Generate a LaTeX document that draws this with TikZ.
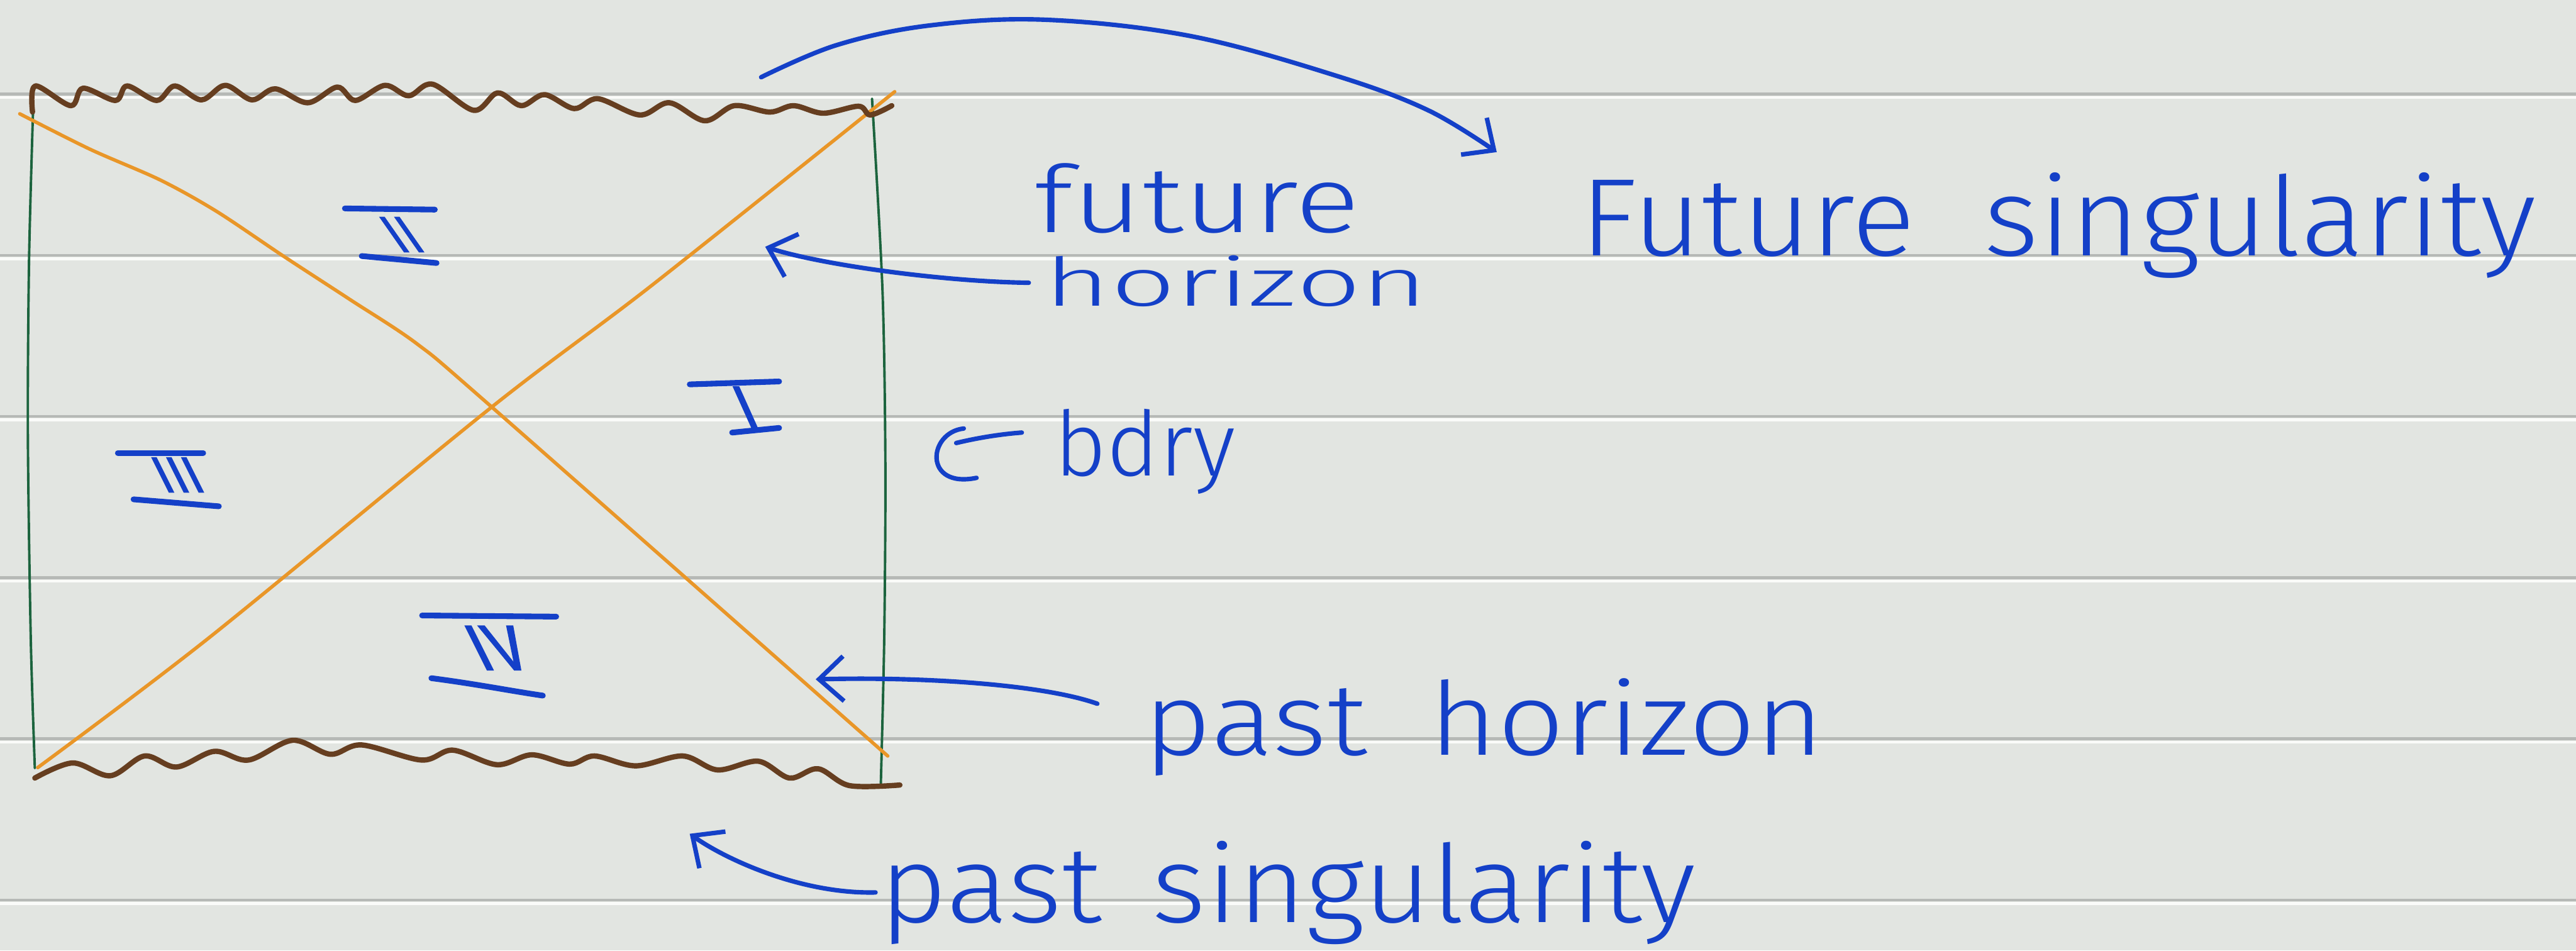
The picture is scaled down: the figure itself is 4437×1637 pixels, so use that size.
\documentclass[tikz,border=0pt]{standalone}
\usepackage{fontspec}
\setmainfont{Fira Sans Light}
\newfontfamily\numfont{Fira Sans}[FakeBold=1.5]
\usetikzlibrary{arrows.meta}
\definecolor{paper}{RGB}{226,229,225}
\definecolor{rulegray}{RGB}{182,185,182}
\definecolor{rulewhite}{RGB}{250,251,249}
\definecolor{ink}{RGB}{20,64,200}
\definecolor{horc}{RGB}{233,150,40}
\definecolor{bdryc}{RGB}{28,100,62}
\definecolor{singc}{RGB}{102,62,32}
\newlength\pxu \setlength\pxu{0.01cm}
\tikzset{
  inkline/.style={draw=ink, line width=2.2pt, line cap=round, line join=round},
  inkarrow/.style={inkline, -{Straight Barb[length=12pt,width=22pt]}},
  numbar/.style={draw=ink, line width=2.8pt, line cap=round},
  lbl/.style={text=ink, inner sep=0pt, outer sep=0pt},
  numlbl/.style={lbl, font=\numfont},
  horline/.style={draw=horc, line width=1.7pt, line cap=round, line join=round},
  bdryline/.style={draw=bdryc, line width=1.2pt, line cap=round},
  wavyline/.style={draw=singc, line width=2.6pt, line cap=round, line join=round},
}
\begin{document}
\begin{tikzpicture}[x=0.01cm, y=-0.01cm]
\fill[paper] (0,0) rectangle (4437,1637);
\useasboundingbox (0,0) rectangle (4437,1637);
% ruled paper
\foreach \k in {0,...,5} {
  \pgfmathsetmacro\yy{162+277.6*\k}
  \draw[rulegray, line width=1.4pt] (0,\yy) -- (4437,\yy);
  \draw[rulewhite, line width=1.4pt] (0,\yy+6) -- (4437,\yy+6);
}
% boundaries
\draw[bdryline] plot[smooth] coordinates {(57,188) (50,450) (48,750) (53,1100) (60,1323)};
\draw[bdryline] plot[smooth] coordinates {(1502,170) (1520,500) (1525,800) (1523,1100) (1517,1355)};
% horizons
\draw[horline] plot[smooth] coordinates {(34,196) (155,257) (276,310) (373,364) (488,441) (603,516) (718,592) (847,701) (1529,1302)};
\draw[horline] plot[smooth] coordinates {(65,1322) (358,1100) (847,701) (1122,492) (1541,158)};
% singularities
\draw[wavyline] plot[smooth, tension=0.55] coordinates {(56,193)
 (61,148) (122,182) (143,152) (199,173) (219,148) (270,173) (301,148) (347,172)
 (388,147) (434,172) (474,153) (530,177) (581,150) (612,173) (663,147) (704,165)
 (745,145) (816,190) (857,160) (898,182) (938,163) (989,187) (1030,170) (1102,198)
 (1153,177) (1214,208) (1265,182) (1326,193) (1367,182) (1418,195) (1479,183) (1499,198) (1536,182)};
\draw[wavyline] plot[smooth, tension=0.55] coordinates {(60,1340)
 (125,1314) (190,1336) (249,1302) (304,1321) (369,1294) (428,1309) (504,1275) (569,1299)
 (623,1283) (726,1309) (780,1292) (856,1317) (916,1300) (981,1316) (1024,1302) (1095,1319)
 (1176,1302) (1236,1326) (1306,1311) (1360,1340) (1409,1324) (1463,1353) (1550,1352)};
% region numerals
\node[numlbl, xslant=-0.7] (r2) at (692,404) {\resizebox{!}{60\pxu}{II}};
\draw[numbar] (594,359) -- (749,361);
\draw[numbar] (623,441) -- (752,453);
\node[numlbl, xslant=-0.45] (r1) at (1284,702) {\resizebox{!}{72\pxu}{I}};
\draw[numbar] (1188,662) -- (1342,657);
\draw[numbar] (1261,745) -- (1342,737);
\node[numlbl, xslant=-0.5] (r3) at (306,818) {\resizebox{!}{60\pxu}{III}};
\draw[numbar] (203,780) -- (350,780);
\draw[numbar] (230,860) -- (377,872);
\node[numlbl, xslant=-0.5] (r4) at (856,1116) {\resizebox{!}{76\pxu}{IV}};
\draw[numbar] (727,1060) -- (958,1062);
\draw[numbar] (743,1168) .. controls (820,1178) and (880,1190) .. (935,1198);
% labels
\node[lbl, anchor=base west] (fh1) at (1781,400) {\resizebox{561\pxu}{119\pxu}{future}};
\node[lbl, anchor=base west] (fh2) at (1799,527) {\resizebox{660\pxu}{87\pxu}{horizon}};
\node[lbl, anchor=base west] (fs) at (2722,440) {\resizebox{1646\pxu}{143\pxu}{Future\hspace{0.3em} singularity}};
\node[lbl, anchor=base west] (bd) at (1816,820) {\resizebox{312\pxu}{115\pxu}{bdry}};
\node[lbl, anchor=base west] (ph) at (1970,1300) {\resizebox{1172\pxu}{132\pxu}{past\hspace{0.25em} horizon}};
\node[lbl, anchor=base west] (ps) at (1515,1589) {\resizebox{1406\pxu}{140\pxu}{past\hspace{0.15em} singularity}};
% arrows
\coordinate (fhTip) at (1318,425);
\draw[inkarrow] ([shift={(-27,-40)}]fh2.base west) .. controls (1620,485) and (1410,455) .. (fhTip);
\coordinate (phTip) at (1405,1170);
\draw[inkarrow] ([shift={(-80,-88)}]ph.base west) .. controls (1800,1180) and (1600,1165) .. (phTip);
\coordinate (psTip) at (1188,1436);
\draw[inkarrow] ([shift={(-7,-52)}]ps.base west) .. controls (1380,1540) and (1250,1480) .. (psTip);
\coordinate (bdTip) at (1647,763);
\draw[inkline] ([shift={(-56,-75)}]bd.base west) .. controls (1720,748) and (1680,755) .. (bdTip);
\draw[inkline] (1660,738) .. controls (1598,745) and (1590,842) .. (1682,823);
\coordinate (fsStart) at (1311,133);
\coordinate (fsEnd) at ([shift={(-144,-178)}]fs.base west);
\draw[inkarrow] plot[smooth, tension=0.6] coordinates {(fsStart) (1440,78) (1600,44) (1800,34) (2050,62) (2300,130) (2460,190) (fsEnd)};
\end{tikzpicture}
\end{document}
